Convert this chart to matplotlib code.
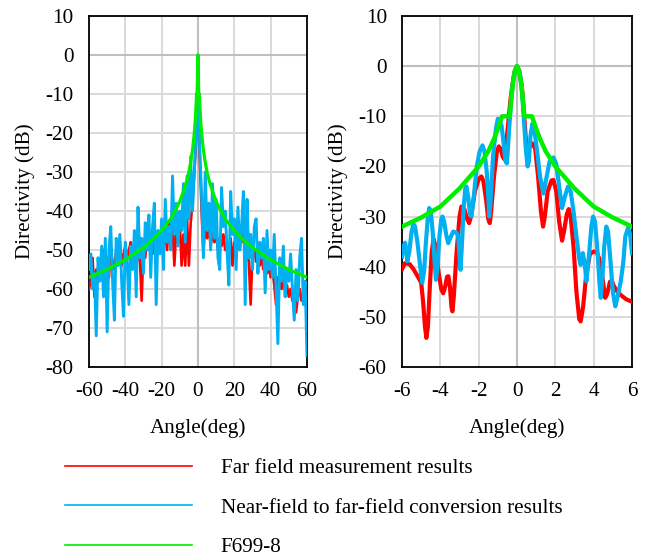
import matplotlib
matplotlib.use('Agg')
import matplotlib.pyplot as plt
from matplotlib.lines import Line2D

plt.rcParams['font.family'] = ['Liberation Serif', 'DejaVu Serif']
plt.rcParams['axes.unicode_minus'] = False

RED = '#FF0000'
BLUE = '#00B0F0'
GREEN = '#00EE00'

# ---- wide view, -60..60 deg ----
wide_angle = [-60, -59, -58, -57, -56, -55, -54, -53, -52, -51, -50, -49, -48, -47, -46,
              -45, -44, -43, -42, -41, -40, -39, -38, -37, -36, -35, -34, -33, -32, -31,
              -30, -29, -28, -27, -26, -25, -24, -23, -22, -21, -20, -19, -18, -17, -16,
              -15, -14, -13, -12, -11, -10, -9, -8, -7, -6, -5, -4, -3, -2, -1, -0.5,
              0, 0.5, 1, 2, 3, 4, 5, 6, 7, 8, 9, 10, 11, 12, 13, 14, 15, 16, 17, 18,
              19, 20, 21, 22, 23, 24, 25, 26, 27, 28, 29, 30, 31, 32, 33, 34, 35, 36,
              37, 38, 39, 40, 41, 42, 43, 44, 45, 46, 47, 48, 49, 50, 51, 52, 53, 54,
              55, 56, 57, 58, 59, 60]
wide_far = [-60, -58, -52, -62, -55, -57, -54, -56, -50, -55, -52, -57, -50, -53, -55,
            -50, -52, -48, -54, -51, -49, -52, -50, -48, -53, -49, -55, -50, -52, -63,
            -49, -52, -46, -50, -47, -51, -45, -49, -46, -50, -44, -49, -46, -50, -43,
            -48, -44, -54, -45, -48, -43, -54, -46, -54, -42, -54, -43, -38, -30, -22, -12,
            0, -12, -26, -40, -51, -42, -47, -44, -49, -45, -48, -46, -50, -47, -49, -46,
            -50, -48, -51, -47, -54, -48, -52, -47, -50, -45, -48, -44, -50, -53, -64, -51,
            -50, -53, -51, -54, -52, -55, -53, -56, -54, -57, -55, -59, -64, -57, -58, -60,
            -57, -61, -59, -62, -60, -63, -61, -66, -62, -60, -63, -61, -62, -62]
wide_conv = [-55, -51, -60, -56, -72, -52, -58, -49, -62, -47, -71, -50, -44, -58, -68,
             -47, -54, -46, -58, -67, -48, -53, -64, -49, -55, -45, -62, -39, -52, -47,
             -56, -43, -50, -41, -57, -44, -38, -64, -45, -51, -42, -55, -37, -48, -44,
             -50, -31, -46, -38, -49, -40, -45, -33, -48, -31, -42, -26, -40, -30, -20, -12,
             0, -12, -24, -36, -52, -30, -45, -38, -50, -33, -47, -37, -52, -55, -34, -44,
             -40, -50, -59, -35, -46, -42, -55, -39, -50, -44, -35, -64, -37, -52, -46, -55,
             -44, -42, -56, -48, -52, -47, -61, -45, -55, -50, -57, -46, -60, -74, -52, -58,
             -49, -62, -55, -58, -51, -60, -68, -55, -63, -52, -47, -64, -58, -77]
wide_mask_angle = [-60, -50, -40, -30, -25, -20, -15, -12, -10, -8, -6, -5, -4, -3, -2,
                   -1.5, -1, -0.78, -0.38, -0.3, -0.2, -0.1, 0, 0.1, 0.2, 0.3, 0.38, 0.78,
                   1, 1.5, 2, 3, 4, 5, 6, 8, 10, 12, 15, 20, 25, 30, 40, 50, 60]
wide_mask = [-57, -55, -52.5, -49.4, -47.4, -45, -42, -39.5, -37.5, -35, -32, -30, -27.5,
             -24.4, -20, -17, -12.5, -10, -10, -6.5, -3, -0.8, 0, -0.8, -3, -6.5, -10, -10,
             -12.5, -17, -20, -24.4, -27.5, -30, -32, -35, -37.5, -39.5, -42, -45, -47.4,
             -49.4, -52.5, -55, -57]

# ---- zoomed view, -6..6 deg ----
near_far_angle = [-6.0, -5.85, -5.6, -5.4, -5.2, -5.0, -4.9, -4.8, -4.73, -4.65, -4.55, -4.45,
                  -4.35, -4.25, -4.1, -3.95, -3.85, -3.75, -3.65, -3.58, -3.5, -3.42, -3.37,
                  -3.3, -3.15, -3.0, -2.9, -2.75, -2.6, -2.5, -2.4, -2.2, -2.0, -1.86, -1.75,
                  -1.6, -1.5, -1.42, -1.35, -1.2, -1.05, -0.95, -0.85, -0.75, -0.68, -0.55,
                  -0.45, -0.35, -0.25, -0.12, 0, 0.12, 0.25, 0.35, 0.45, 0.52, 0.6, 0.8, 0.95,
                  1.1, 1.25, 1.36, 1.45, 1.6, 1.8, 1.9, 2.05, 2.2, 2.35, 2.45, 2.6, 2.7, 2.8,
                  2.95, 3.1, 3.25, 3.32, 3.45, 3.6, 3.8, 3.97, 4.15, 4.3, 4.45, 4.6, 4.7, 4.85,
                  4.95, 5.05, 5.2, 5.4, 5.7, 6.0]
near_far = [-40.5, -39.3, -39.5, -40.5, -41.8, -43.2, -47, -52, -54.2, -52, -44, -37,
            -34.5, -36, -41, -44.5, -45.3, -44, -42, -41.9, -44, -48, -48.9,
            -46, -37, -30, -28, -28.5, -30.5, -31.3, -30, -25, -22.5, -22, -23,
            -27, -30.5, -31.3, -29, -22, -17, -16, -16.5, -18, -18.5, -15,
            -11, -7, -4, -1, 0, -1, -4, -8.5, -14, -16.5, -16, -15.4, -16.5,
            -22, -29, -32, -30, -25, -22.8, -22.7, -25, -31, -34.8, -33, -29.5, -28.5, -30,
            -36, -45, -50.5, -50.9, -48, -42, -37.5, -37, -37, -38.5, -42, -46.2, -45.5, -43,
            -42.8, -43.8, -44.8, -45.6, -46.5, -47]
near_conv_angle = [-6.0, -5.92, -5.84, -5.78, -5.72, -5.62, -5.5, -5.4, -5.32, -5.2, -5.05,
                   -4.95, -4.85, -4.75, -4.65, -4.58, -4.5, -4.4, -4.3, -4.23, -4.15, -4.05,
                   -3.95, -3.89, -3.8, -3.7, -3.59, -3.45, -3.33, -3.15, -3.07, -3.0, -2.95,
                   -2.88, -2.78, -2.7, -2.64, -2.55, -2.45, -2.38, -2.28, -2.1, -1.95, -1.8,
                   -1.7, -1.58, -1.5, -1.45, -1.38, -1.25, -1.1, -1.0, -0.9, -0.8, -0.68, -0.6,
                   -0.53, -0.45, -0.35, -0.25, -0.15, 0, 0.15, 0.25, 0.35, 0.45, 0.55, 0.62,
                   0.7, 0.8, 0.9, 1.05, 1.2, 1.38, 1.5, 1.7, 1.9, 2.05, 2.2, 2.35, 2.5, 2.66,
                   2.8, 2.95, 3.1, 3.25, 3.32, 3.44, 3.55, 3.62, 3.75, 3.88, 3.97, 4.07, 4.2,
                   4.3, 4.37, 4.46, 4.55, 4.66, 4.75, 4.88, 5.0, 5.13, 5.25, 5.41, 5.55, 5.65,
                   5.79, 5.9, 6.0]
near_conv = [-38, -36, -35.2, -36.5, -38.9, -37, -33, -31.5, -32, -35, -40,
             -43.2, -41, -35, -30, -28.3, -29, -33, -39, -42.6, -40, -34,
             -30.5, -30, -31, -33.5, -35.3, -34, -33, -33.2, -34, -38, -40.6,
             -36, -28, -24.5, -24, -26, -29.5, -30, -27, -20, -17, -15.8,
             -17, -21, -26, -30, -27, -18, -12.5, -10.5, -10.8, -12, -16, -19,
             -19.4, -15, -9, -4.5, -1.5, 0, -1.5, -4.5, -10, -16, -20, -19,
             -14, -11.5, -12.5, -17, -22, -25.4, -23, -19, -18.2, -19.5, -24, -28.3, -26, -24,
             -25, -29, -34, -38.5, -39.6, -37.3, -40, -42.9, -38, -32, -30, -31, -37,
             -43, -46.2, -42, -36, -32, -33, -39, -45, -47.9, -46, -43, -39, -34,
             -32.3, -33.5, -37.3]
near_mask_angle = [-6, -5, -4, -3, -2, -1.5, -1.2, -1, -0.78, -0.38, -0.3, -0.2, -0.1, 0,
                   0.1, 0.2, 0.3, 0.38, 0.78, 1, 1.2, 1.5, 2, 3, 4, 5, 6]
near_mask = [-32, -30.2, -28, -24.4, -20, -17, -14.5, -12.5, -10, -10, -6.5, -3, -0.8, 0,
             -0.8, -3, -6.5, -10, -10, -12.5, -14.5, -17, -20, -24.4, -28, -30.2, -32]

legend_labels = ['Far field measurement results',
                 'Near-field to far-field conversion results',
                 'F699-8']

FS = 15.2
fig = plt.figure(figsize=(6.48, 5.58), dpi=100)
ax1 = fig.add_axes([0.1373, 0.3423, 0.3364, 0.629])
ax2 = fig.add_axes([0.6204, 0.3423, 0.3549, 0.629])


def style_axis(ax, xlim, ylim, xticks, yticks):
    ax.set_xlim(*xlim)
    ax.set_ylim(*ylim)
    ax.set_xticks(xticks)
    ax.set_yticks(yticks)
    ax.grid(True, color='#D9D9D9', lw=1.4)
    ax.set_axisbelow(True)
    ax.axhline(0, color='#BFBFBF', lw=1.5, zorder=1)
    ax.axvline(0, color='#BFBFBF', lw=1.5, zorder=1)
    ax.tick_params(length=0, labelsize=FS, pad=11)
    for sp in ax.spines.values():
        sp.set_linewidth(1.3)
        sp.set_color('black')
    ax.set_ylabel('Directivity (dB)', fontsize=FS)
    ax.set_xlabel('Angle(deg)', fontsize=FS)
    ax.xaxis.label.set_va('center')
    ax.yaxis.label.set_va('center')


ax1.plot(wide_angle, wide_far, color=RED, lw=1.9, zorder=3)
ax1.plot(wide_angle, wide_conv, color=BLUE, lw=2.1, zorder=4)
ax1.plot(wide_mask_angle, wide_mask, color=GREEN, lw=2.3, zorder=5)
style_axis(ax1, (-60, 60), (-80, 10), range(-60, 61, 20), range(-80, 11, 10))
ax1.yaxis.set_label_coords(-0.294, 0.5)
ax1.xaxis.set_label_coords(0.5, -0.174)

ax2.plot(near_far_angle, near_far, color=RED, lw=3.0, zorder=3)
ax2.plot(near_conv_angle, near_conv, color=BLUE, lw=3.0, zorder=4)
ax2.plot(near_mask_angle, near_mask, color=GREEN, lw=3.2, zorder=5)
style_axis(ax2, (-6, 6), (-60, 10), range(-6, 7, 2), range(-60, 11, 10))
ax2.yaxis.set_label_coords(-0.278, 0.5)
ax2.xaxis.set_label_coords(0.5, -0.174)

handles = [Line2D([], [], color=c, lw=1.2) for c in (RED, BLUE, GREEN)]
fig.legend(handles, legend_labels, loc='upper left', bbox_to_anchor=(0.1003, 0.178),
           frameon=False, fontsize=FS, handlelength=6.0, handletextpad=1.37,
           labelspacing=0.93, borderpad=0, borderaxespad=0)

fig.savefig('out.png', dpi=100)
